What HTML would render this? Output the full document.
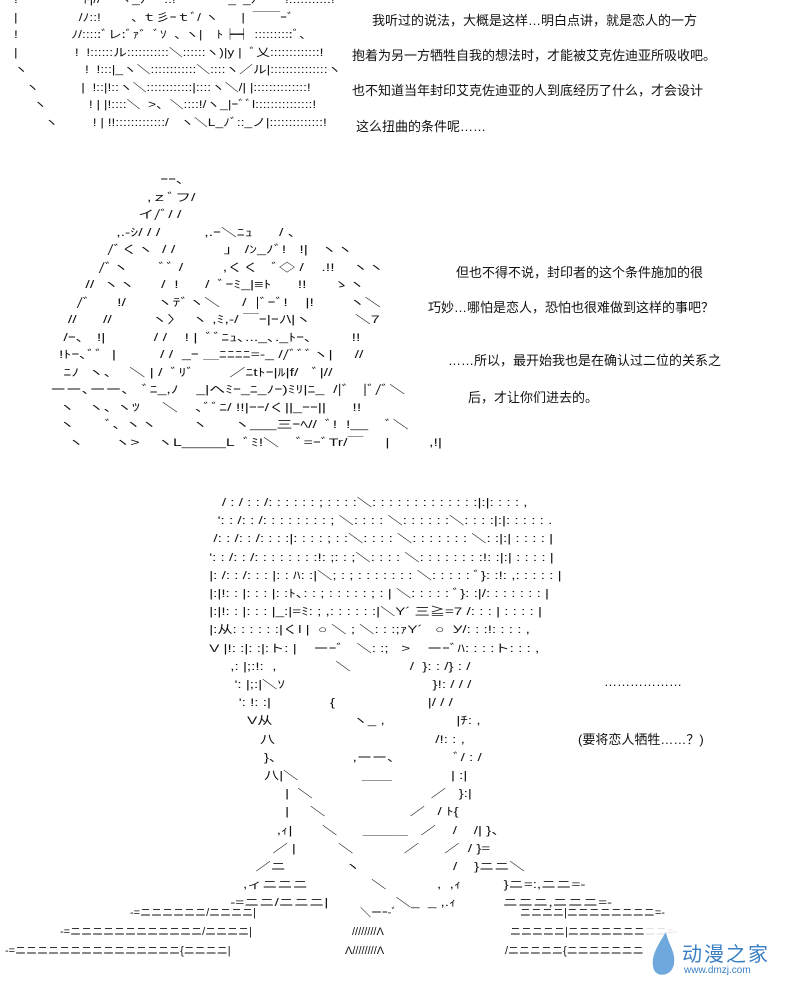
<!DOCTYPE html>
<html><head><meta charset="utf-8"><style>
body{margin:0;width:800px;height:990px;background:#fff;position:relative;overflow:hidden;font-family:"Liberation Sans","Noto Sans CJK SC",sans-serif;color:#111}
.a{position:absolute;white-space:pre;font-size:11px;line-height:17.5px;color:#111;transform-origin:0 0}
.t{position:absolute;white-space:pre;font-size:13px;color:#111}
</style></head><body>
<div class="a" style="left:14px;top:-8px;transform:scaleX(1.25)">!                 ﾄ|// 　ヽ_ﾉ　 .:!　  　　 _ｰ_ﾉ　　!:::::::::::!
|                /ﾉ::!        ､ ｔ彡ｰｔﾞ/ ヽ      |  ￣￣ｰﾞ
!              ﾉ/:::::ﾞレ:ﾞｧ゛ﾞｿ  ､ ヽ|　ﾄ┝┥ ::::::::::ﾞ､
|               !  !::::::ル:::::::::::＼::::::ヽ)|y |  ﾞ乂:::::::::::::!
ヽ               !  !:::|_ヽ＼::::::::::::＼::::ヽ／ル|:::::::::::::::ヽ
   ヽ           |  !::|!::ヽ＼::::::::::::|::::ヽ＼/| |::::::::::::::!
     ヽ           ! | |!::::＼  >、＼::::!/ヽ_|ｰﾞﾞl:::::::::::::::!
        ヽ         ! | !!:::::::::::::/   ヽ＼L_ﾉﾞ::_ノ|::::::::::::::!</div>
<div class="t" style="left:372px;top:10px">我听过的说法，大概是这样…明白点讲，就是恋人的一方</div>
<div class="t" style="left:352px;top:45px">抱着为另一方牺牲自我的想法时，才能被艾克佐迪亚所吸收吧。</div>
<div class="t" style="left:352px;top:80px">也不知道当年封印艾克佐迪亚的人到底经历了什么，才会设计</div>
<div class="t" style="left:356px;top:116px">这么扭曲的条件呢……</div>

<div class="a" style="left:-7px;top:172px;transform:scaleX(1.44)">                                      ｰｰ､
                                   ,ｚﾞフ/
                                 イ/ﾞ/ /
                            ,.-ｼ/ / /          ,.ｰ＼ﾆｭ      / ､
                          /ﾞくヽ  / /           ｣   /ﾝ_ﾉﾞ!   !|   ヽヽ
                        /ﾞヽ       ﾞﾞ /         ,くく   ﾞ◇ /    .!!    ヽヽ
                     //  ヽヽ      /  !      /  ﾞｰﾐ_|≡ﾄ      !!      ゝヽ
                   /ﾞ      !/       ヽﾃﾞヽ＼     /  |ﾞｰﾞ!    |!        ヽ＼
                 //      //         ヽ〉  ヽ ,ﾐ,-/ ￣ｰ|ｰﾉ\|ヽ          ＼7
                /ｰ､   !|           / /    ! |  ﾞﾞﾆｭ､..._､._ﾄｰ､         !!
               !ﾄｰ､ﾞﾞ  |          / /  _ｰ ＿ﾆﾆﾆﾆ=-_ //ﾞﾞﾞヽ|     //
                ﾆﾉ  ヽ､    ＼ | /  ﾞﾘﾞ        ／ﾆtﾄｰ|ﾙ|f/   ﾞ|//
             ーー､ーー､   ﾞﾆ_,ﾉ    _|へﾐｰ_ﾆ_ﾉｰ)ﾐﾘ|ﾆ_  /|ﾞ   |ﾞ/ﾞ＼
               ヽ   ヽ､ ヽﾂ     ＼    ､ﾞﾞﾆ/ !!|ｰｰ/く||_ｰｰ||      !!
               ヽ       ﾞ､ ヽヽ        ヽ      ヽ___三ｰﾍ//  ﾞ!  !__    ﾞ＼
                 ヽ       ヽ>    ヽL_____L  ﾞﾐ!＼    ﾞ=ｰﾞTr/￣     |         ,!|</div>
<div class="t" style="left:456px;top:262px">但也不得不说，封印者的这个条件施加的很</div>
<div class="t" style="left:428px;top:297px">巧妙…哪怕是恋人，恐怕也很难做到这样的事吧？</div>
<div class="t" style="left:448px;top:350px">……所以，最开始我也是在确认过二位的关系之</div>
<div class="t" style="left:468px;top:387px">后，才让你们进去的。</div>

<div class="a" style="left:205px;top:494px;line-height:18.2px;transform:scaleX(1.38)">    / : / : : /: : : : : : ; : : : :＼: : : : : : : : : : : : :|:|: : : : ,
   ': : /: : /: : : : : : : : ; ＼: : : : ＼: : : : : :＼: : : :|:|: : : : : .
  /: : /: : /: : : :|: : : : ; : :＼: : : : ＼: : : : : : : ＼: :|:| : : : : |
 ': : /: : /: : : : : : : :!: ;: : ;＼: : : : ＼: : : : : : : :!: :|:| : : : : |
 |: /: : /: : : |: : ﾊ: :|＼; : ; : : : : : : : ＼: : : : : ﾞ}: :!: ,: : : : : |
 |:|!: : |: : : |: :ﾄ､: : ; : : : : : ; : | ＼: : : : : ﾞ}: :|/: : : : : : : |
 |:|!: : |: : : |_:|=ﾐ: ; ,: : : : : :|＼Y´ 三≧=7 /: : : | : : : : |
 |:从: : : : : :|くl |  ○ ＼ ; ＼: : :;ｧY´   ○  У/: : :!: : : : ,
 V |!: :|: :|:ト: |    ーｰﾞ   ＼: :;   >    ーｰﾞﾊ: : : :ト: : : ,
      ,: |;:!:  ,              ＼              /  }: : /} : /
       ': |;:|＼ｿ                                   }!: / / /
        ': !: :|              {                      |/ / /
          V从                   ヽ_ ,                 |ﾁ: ,
             八                                      /!: : ,
              }､                  ,ーー､              ﾞ/ : /
              八|＼               ＿＿              | :|
                   |  ＼                            ／   }:|
                   |     ＼                    ／   / ﾄ{
                 ,ｨ|       ＼      ＿＿＿   ／    /    /| }、
                ／ |          ＼            ／      ／  / }=
            ／ニ              ヽ                      /    }ニニ＼
         ,ィニニニ               ＼            ,  ,ｨ          }ニ=:,ニニ=-
      -=ニニ/ニニニ|                ＼_  _ ,.ｨ           ニニニ,ニニニ=-</div>
<div class="a" style="left:130px;top:905px">-=ニニニニニニ/ニニニニ|</div>
<div class="a" style="left:360px;top:905px">＼ーｰ-ﾞ</div>
<div class="a" style="left:520px;top:905px">ニニニニ|ニニニニニニニニ=-</div>
<div class="a" style="left:60px;top:924px">-=ニニニニニニニニニニニニ/ニニニニ|</div>
<div class="a" style="left:352px;top:924px">////////Λ</div>
<div class="a" style="left:510px;top:924px">ニニニニニ|ニニニニニニニニニ=-</div>
<div class="a" style="left:5px;top:943px">-=ニニニニニニニニニニニニニニニ{ニニニニ|</div>
<div class="a" style="left:345px;top:943px">Λ////////Λ</div>
<div class="a" style="left:505px;top:943px">/ニニニニニ{ニニニニニニニ</div>
<div class="t" style="left:604px;top:674px">………………</div>
<div class="t" style="left:578px;top:729px">(要将恋人牺牲……？)</div>
<div style="position:absolute;left:644px;top:928px;width:150px;height:56px;background:rgba(255,255,255,0.85)"></div>
<svg style="position:absolute;left:648px;top:930px" width="30" height="48"><path d="M18 2 C8 18 2 28 6 40 C10 48 24 46 26 34 C28 22 20 14 18 2Z" fill="#6fa8dc"/></svg>
<div class="t" style="left:682px;top:938px;font-size:20px;color:#3a7fc4;letter-spacing:2px">动漫之家</div>
<div class="t" style="left:684px;top:965px;font-size:10px;color:#3a7fc4">www.dmzj.com</div>
</body></html>
